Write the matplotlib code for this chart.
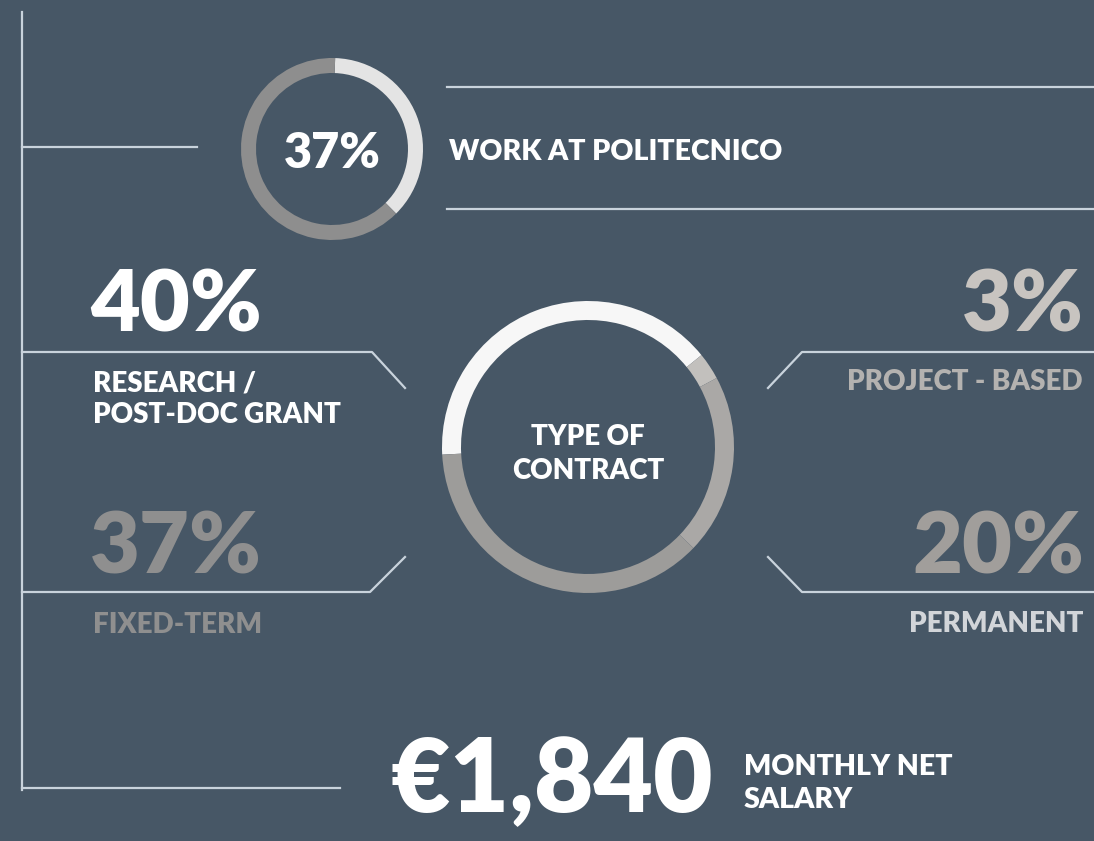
import matplotlib.pyplot as plt

# data
work_pct = 37
contract_labels = ['RESEARCH /\nPOST-DOC GRANT', 'PROJECT - BASED', 'PERMANENT', 'FIXED-TERM']
contract_pct = [40, 3, 20, 37]
contract_colors = ['#f7f7f7', '#c2c0bd', '#aaa8a6', '#9d9c9a']
salary = '€1,840'

W, H = 1094, 841
BG = '#475766'
LINE = '#c9d3dc'
FONT = 'Lato'

def fy(y):
    return H - y

fig = plt.figure(figsize=(W / 100, H / 100), dpi=100, facecolor=BG)
ax = fig.add_axes([0, 0, 1, 1])
ax.set_facecolor(BG)

# small donut: work at politecnico
ax.pie([work_pct, 100 - work_pct], colors=['#e4e4e4', '#8e8e8e'],
       startangle=88, counterclock=False, radius=91, center=(332, fy(149)),
       wedgeprops=dict(width=15, linewidth=0), frame=True)

# big donut: type of contract
ax.pie(contract_pct, colors=contract_colors, startangle=183, counterclock=False,
       radius=146, center=(588, fy(447)),
       wedgeprops=dict(width=19, linewidth=0), frame=True)

# connector lines
lw = 1.6
ax.plot([22, 22], [fy(12), fy(790)], color=LINE, lw=lw)
ax.plot([22, 197], [fy(147), fy(147)], color=LINE, lw=lw)
ax.plot([447, W], [fy(87), fy(87)], color=LINE, lw=lw)
ax.plot([447, W], [fy(209), fy(209)], color=LINE, lw=lw)
ax.plot([22, 372, 405], [fy(352), fy(352), fy(388)], color=LINE, lw=lw)
ax.plot([22, 370, 405], [fy(592), fy(592), fy(557)], color=LINE, lw=lw)
ax.plot([768, 802, W], [fy(388), fy(352), fy(352)], color=LINE, lw=lw)
ax.plot([768, 802, W], [fy(557), fy(592), fy(592)], color=LINE, lw=lw)
ax.plot([22, 340], [fy(788), fy(788)], color=LINE, lw=lw)

kw = dict(family=FONT, fontweight='heavy', va='baseline')

ax.text(332, fy(168), f'{work_pct}%', color='white', fontsize=35, ha='center', **kw)
ax.text(449, fy(160), 'WORK AT POLITECNICO', color='white', fontsize=20.5, ha='left', **kw)

# left side
ax.text(90, fy(331), f'{contract_pct[0]}%', color='white', fontsize=62, ha='left', **kw)
ax.text(93, fy(391), 'RESEARCH /', color='white', fontsize=20, ha='left', **kw)
ax.text(93, fy(423), 'POST-DOC GRANT', color='white', fontsize=20, ha='left', **kw)
ax.text(90, fy(573), f'{contract_pct[3]}%', color='#8f8f8f', fontsize=62, ha='left', **kw)
ax.text(93, fy(633), contract_labels[3], color='#8f8f8f', fontsize=20, ha='left', **kw)

# right side
ax.text(1084, fy(331), f'{contract_pct[1]}%', color='#c8c4c0', fontsize=62, ha='right', **kw)
ax.text(1083, fy(390), contract_labels[1], color='#b4b2b0', fontsize=20, ha='right', **kw)
ax.text(1084, fy(573), f'{contract_pct[2]}%', color='#a19e9b', fontsize=62, ha='right', **kw)
ax.text(1083, fy(632), contract_labels[2], color='#d2d5d9', fontsize=20, ha='right', **kw)

# centre of big donut
ax.text(588, fy(445), 'TYPE OF', color='white', fontsize=20, ha='center', **kw)
ax.text(588, fy(479), 'CONTRACT', color='white', fontsize=20, ha='center', **kw)

# salary
ax.text(391, fy(812), salary, color='white', fontsize=74, ha='left', **kw)
ax.text(744, fy(775), 'MONTHLY NET', color='white', fontsize=20.5, ha='left', **kw)
ax.text(744, fy(808), 'SALARY', color='white', fontsize=20.5, ha='left', **kw)

ax.set_xlim(0, W)
ax.set_ylim(0, H)
ax.set_aspect('auto')
ax.axis('off')

fig.savefig('out.png', dpi=100, facecolor=BG)
